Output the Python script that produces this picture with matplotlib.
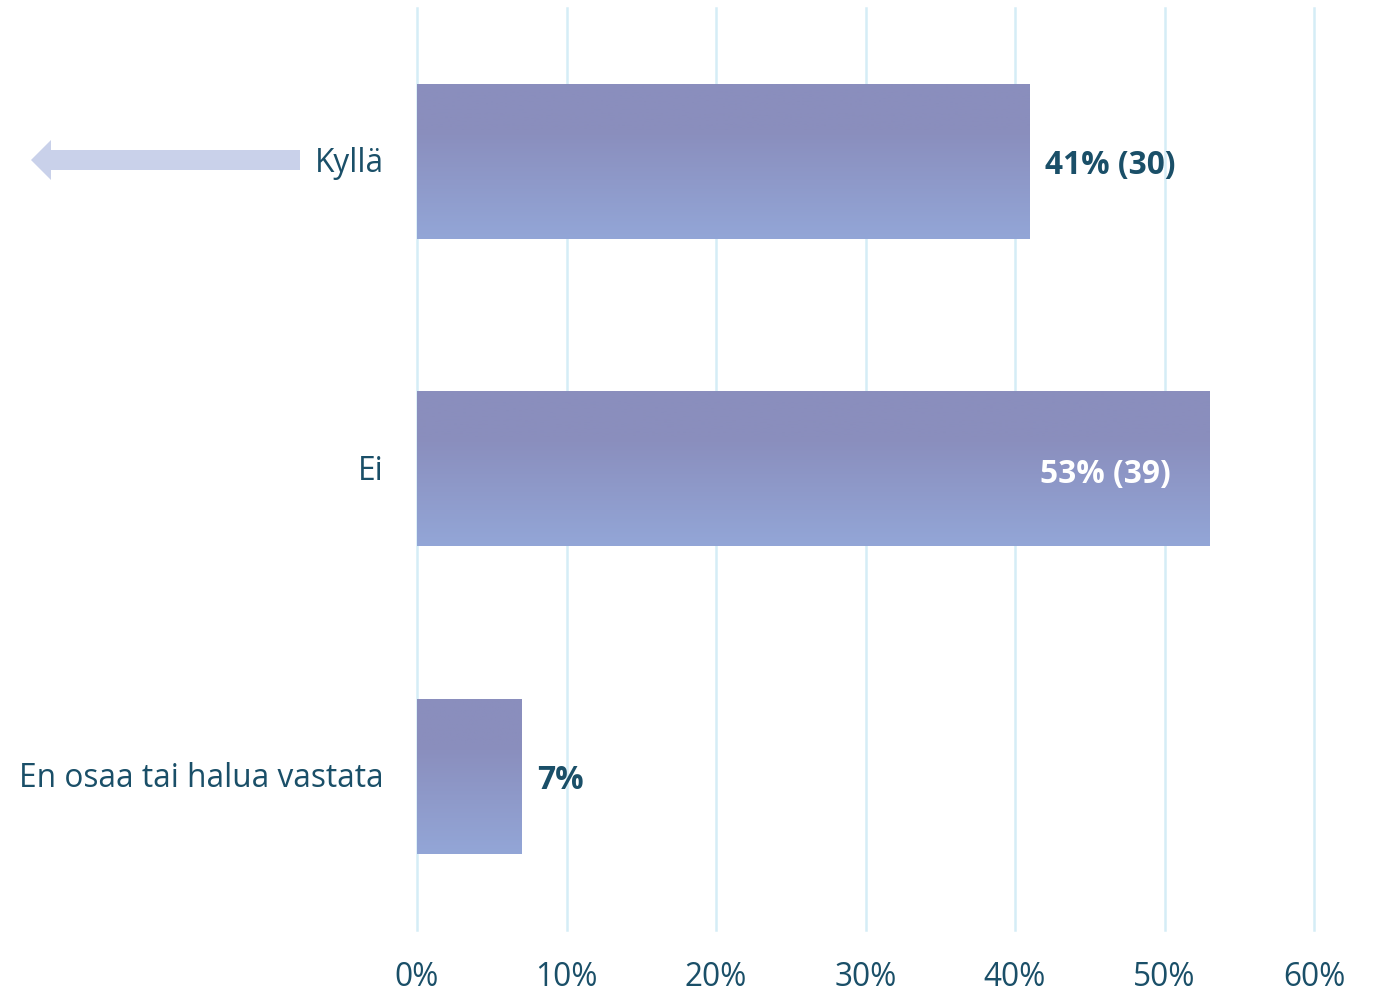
import matplotlib.pyplot as plt
from matplotlib.patches import Polygon
import matplotlib.transforms as mtransforms
import numpy as np

# Data
categories = ['Kyllä', 'Ei', 'En osaa tai halua vastata']
percents = [41, 53, 7]
counts = [30, 39, None]
ticks = [0, 10, 20, 30, 40, 50, 60]

plt.rcParams['font.family'] = ['Open Sans', 'DejaVu Sans']
text_color = '#1a4f68'
grid_color = '#d5edf6'
top_col = np.array([0x8a, 0x8e, 0xbd]) / 255
bot_col = np.array([0x93, 0xa6, 0xd7]) / 255
fs = 22.8

fig = plt.figure(figsize=(13.74, 9.91), dpi=100)
ax = fig.add_axes([417 / 1374, 61 / 991, (1314 - 417) / 1374, (930 - 8) / 991])

bar_h = 0.504
# vertical gradient: flat top third, then fade to lighter blue
t = np.linspace(0, 1, 256)
w = np.clip((t - 0.3) / 0.7, 0, 1)
grad = (top_col[None, :] * (1 - w[:, None]) + bot_col[None, :] * w[:, None])[:, None, :]

for i, (cat, p, c) in enumerate(zip(categories, percents, counts)):
    ax.imshow(grad, extent=[0, p, i + bar_h / 2, i - bar_h / 2], aspect='auto',
              interpolation='bilinear', zorder=2)
    label = f'{p}% ({c})' if c is not None else f'{p}%'
    if p > 50:
        ax.annotate(label, (p, i), xytext=(-39, -6), textcoords='offset pixels',
                    ha='right', va='center', fontsize=fs, fontweight='bold',
                    color='white', zorder=3)
    else:
        ax.annotate(label, (p, i), xytext=(15, -4), textcoords='offset pixels',
                    ha='left', va='center', fontsize=fs, fontweight='bold',
                    color=text_color, zorder=3)

ax.set_xlim(0, 60)
ax.set_ylim(len(categories) - 0.5, -0.5)
ax.set_yticks(range(len(categories)))
ax.set_yticklabels(categories, fontsize=fs, color=text_color)
ax.set_xticks(ticks)
ax.set_xticklabels([f'{v}%' for v in ticks], fontsize=fs, color=text_color)
ax.tick_params(axis='y', length=0, pad=24)
ax.tick_params(axis='x', length=0, pad=22)
shift = mtransforms.ScaledTranslation(0, 2 / 100, fig.dpi_scale_trans)
for lab in ax.get_yticklabels():
    lab.set_transform(lab.get_transform() + shift)
for v in ticks:
    ax.axvline(v, color=grid_color, lw=1.8, zorder=1, clip_on=False)
for s in ax.spines.values():
    s.set_visible(False)

# arrow next to "Kyllä" (pixel coords from the top-left)
arrow_px = [(31, 160), (51, 140), (51, 150), (300, 150), (300, 170), (51, 170), (51, 180)]
pts = [(x / 100, (991 - y) / 100) for x, y in arrow_px]
fig.add_artist(Polygon(pts, closed=True, facecolor='#c9d1ea', edgecolor='none',
                       transform=fig.dpi_scale_trans))

fig.savefig('out.png', dpi=100)
